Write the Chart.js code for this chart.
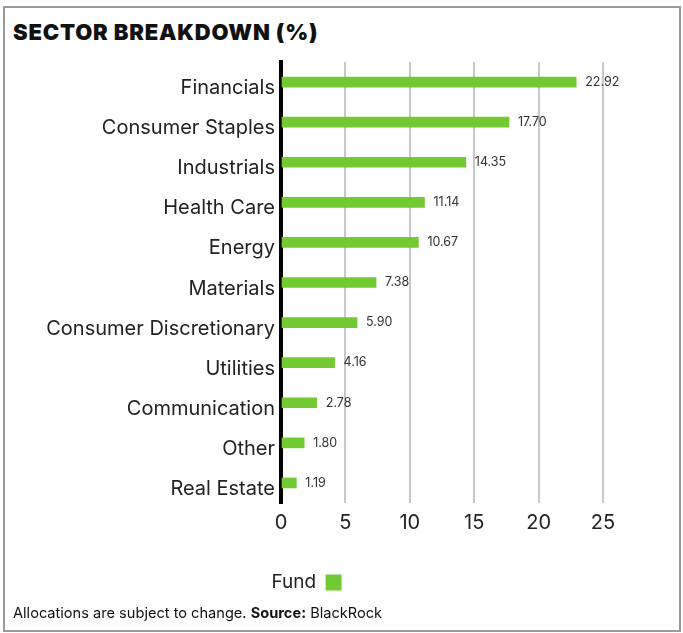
<!DOCTYPE html>
<html lang="en">
<head>
  <meta charset="UTF-8" />
  <title>Sector Breakdown</title>
  <script src="https://cdn.jsdelivr.net/npm/chart.js"></script>
  <style>
    html, body {
      margin: 0;
      padding: 0;
      background: #fff;
      font-family: Inter, "Open Sans", sans-serif;
      color: #111;
    }
    .frame {
      position: absolute;
      left: 3px;
      top: 6px;
      width: 674px;
      height: 622px;
      border: 2px solid #9a9a9a;
    }
    h1 {
      position: absolute;
      left: 13px;
      top: 19px;
      margin: 0;
      font-size: 22px;
      font-weight: 900;
      letter-spacing: 0.8px;
    }
    .note {
      position: absolute;
      left: 13px;
      top: 604px;
      font-size: 14.6px;
      color: #111;
    }
    .chart-box {
      position: absolute;
      left: 0;
      top: 0;
      width: 683px;
      height: 633px;
    }
  </style>
</head>
<body>
  <div class="frame"></div>
  <h1>SECTOR BREAKDOWN (%)</h1>
  <div class="chart-box"><canvas id="sectorChart"></canvas></div>
  <div class="note">Allocations are subject to change. <b>Source:</b> BlackRock</div>

  <script>
    const sectors = ['Financials', 'Consumer Staples', 'Industrials', 'Health Care', 'Energy',
      'Materials', 'Consumer Discretionary', 'Utilities', 'Communication', 'Other', 'Real Estate'];
    const fundValues = [22.92, 17.70, 14.35, 11.14, 10.67, 7.38, 5.90, 4.16, 2.78, 1.80, 1.19];
    const xTicks = [0, 5, 10, 15, 20, 25];

    // value labels to the right of each bar
    const barLabels = {
      id: 'barLabels',
      afterDatasetsDraw(chart) {
        const ctx = chart.ctx;
        const meta = chart.getDatasetMeta(0);
        ctx.save();
        ctx.font = '12.5px Inter, sans-serif';
        ctx.fillStyle = '#333';
        ctx.textBaseline = 'middle';
        meta.data.forEach((bar, i) => {
          ctx.fillText(fundValues[i].toFixed(2), bar.x + 9, bar.y);
        });
        ctx.restore();
      }
    };

    new Chart(document.getElementById('sectorChart'), {
      type: 'bar',
      data: {
        labels: sectors,
        datasets: [{
          label: 'Fund',
          data: fundValues,
          backgroundColor: '#73c932',
          barThickness: 10
        }]
      },
      options: {
        indexAxis: 'y',
        responsive: true,
        maintainAspectRatio: false,
        animation: false,
        layout: { padding: { left: 10, right: 80, top: 62, bottom: 31 } },
        scales: {
          x: {
            min: 0,
            max: 25,
            afterBuildTicks: (scale) => { scale.ticks = xTicks.map(v => ({ value: v })); },
            grid: { color: '#c8c8c8', lineWidth: 2, drawTicks: false },
            border: { display: false },
            ticks: { color: '#222', font: { size: 20, family: 'Inter' }, padding: 8 }
          },
          y: {
            afterFit: (scale) => { scale.width = 271; },
            grid: { display: false, drawTicks: false },
            border: { color: '#000', width: 4 },
            ticks: { color: '#222', font: { size: 20, family: 'Inter' }, padding: 6, labelOffset: 6 }
          }
        },
        plugins: {
          legend: {
            position: 'bottom',
            rtl: true,
            labels: {
              color: '#222',
              font: { size: 19, family: 'Inter' },
              boxWidth: 16,
              boxHeight: 16,
              padding: 30
            }
          },
          tooltip: { enabled: false }
        }
      },
      plugins: [barLabels]
    });
  </script>
</body>
</html>
